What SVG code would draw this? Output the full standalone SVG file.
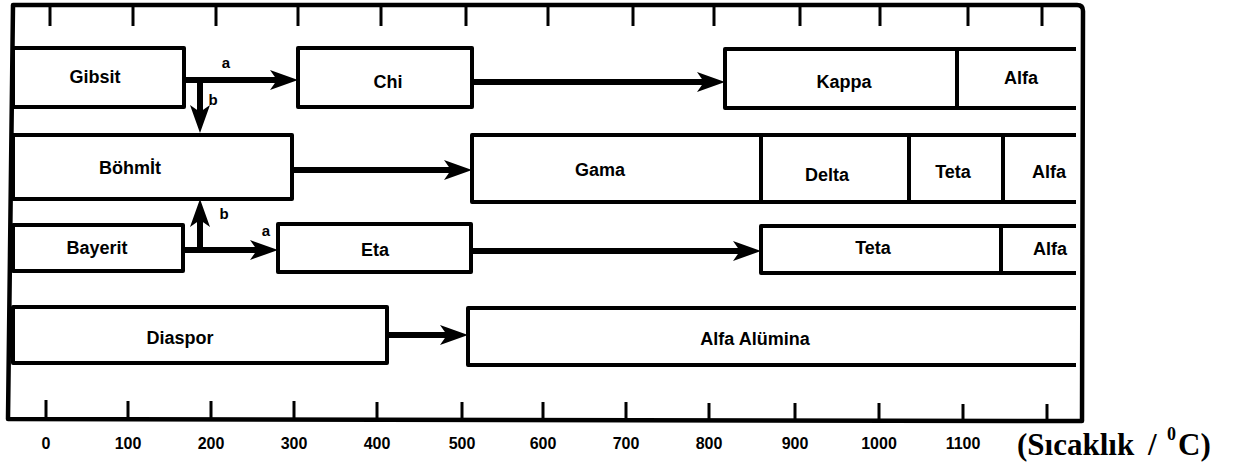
<svg xmlns="http://www.w3.org/2000/svg" width="1234" height="465" viewBox="0 0 1234 465">
  <style>
    .frame { fill: none; stroke: #000; stroke-width: 4.5; stroke-linejoin: round; }
    .tick { stroke: #000; stroke-width: 3; }
    .box { fill: #fff; stroke: #000; stroke-width: 4; stroke-linejoin: round; }
    .open { fill: none; stroke: #000; stroke-width: 4; stroke-linejoin: round; }
    .div { stroke: #000; stroke-width: 4; }
    .shaft { stroke: #000; stroke-width: 6; fill: none; marker-end: url(#head); }
    .lbl { font-family: "Liberation Sans", Arial, sans-serif; font-weight: bold; font-size: 18px; text-anchor: middle; fill: #000; }
    .ab { font-family: "Liberation Sans", Arial, sans-serif; font-weight: bold; font-size: 15px; text-anchor: middle; fill: #000; }
    .num { font-family: "Liberation Sans", Arial, sans-serif; font-weight: bold; font-size: 16px; text-anchor: middle; fill: #000; }
    .unit { font-family: "Liberation Serif", "Times New Roman", serif; font-weight: bold; fill: #000; }
  </style>
  <defs>
    <marker id="head" viewBox="0 -10 28 20" refX="7" refY="0" markerWidth="28" markerHeight="20" markerUnits="userSpaceOnUse" orient="auto">
      <path d="M0,-10 L28,0 L0,10 L7,0 Z" fill="#000"/>
    </marker>
  </defs>
  <rect width="1234" height="465" fill="#fff"/>

  <!-- outer frame with temperature axis -->
  <g id="axis">
    <path class="frame" d="M8,419 L13,5 L1077,5 Q1083,5 1083,11 L1082,421 Z"/>
    <g class="tick">
      <line x1="50" y1="5" x2="50" y2="26"/>
      <line x1="133" y1="5" x2="133" y2="26"/>
      <line x1="216" y1="5" x2="216" y2="26"/>
      <line x1="298" y1="5" x2="298" y2="26"/>
      <line x1="381" y1="5" x2="381" y2="26"/>
      <line x1="466" y1="5" x2="466" y2="26"/>
      <line x1="548" y1="5" x2="548" y2="26"/>
      <line x1="633" y1="5" x2="633" y2="26"/>
      <line x1="714" y1="5" x2="714" y2="26"/>
      <line x1="800" y1="5" x2="800" y2="26"/>
      <line x1="880" y1="5" x2="880" y2="26"/>
      <line x1="968" y1="5" x2="968" y2="26"/>
      <line x1="1042" y1="5" x2="1042" y2="26"/>

      <line x1="46" y1="400" x2="46" y2="419"/>
      <line x1="128" y1="401" x2="128" y2="419"/>
      <line x1="211" y1="401" x2="211" y2="419"/>
      <line x1="294" y1="401" x2="294" y2="420"/>
      <line x1="377" y1="402" x2="377" y2="420"/>
      <line x1="462" y1="402" x2="462" y2="420"/>
      <line x1="543" y1="402" x2="543" y2="420"/>
      <line x1="626" y1="402" x2="626" y2="420"/>
      <line x1="709" y1="403" x2="709" y2="421"/>
      <line x1="795" y1="403" x2="795" y2="421"/>
      <line x1="879" y1="403" x2="879" y2="421"/>
      <line x1="963" y1="404" x2="963" y2="421"/>
      <line x1="1047" y1="404" x2="1047" y2="421"/>
    </g>
    <g class="num">
      <text x="46" y="449">0</text>
      <text x="128" y="449">100</text>
      <text x="211" y="449">200</text>
      <text x="294" y="449">300</text>
      <text x="377" y="449">400</text>
      <text x="462" y="449">500</text>
      <text x="543" y="449">600</text>
      <text x="626" y="449">700</text>
      <text x="709" y="449">800</text>
      <text x="795" y="449">900</text>
      <text x="879" y="449">1000</text>
      <text x="963" y="449">1100</text>
    </g>
    <text class="unit" font-size="31" x="1017" y="455">(Sıcaklık</text>
    <text class="unit" font-size="31" x="1148" y="455">/</text>
    <text class="unit" font-size="18" x="1167" y="440">0</text>
    <text class="unit" font-size="31" x="1178" y="455">C)</text>
  </g>

  <!-- row 1 -->
  <g id="gibsit">
    <rect class="box" x="13" y="48" width="171" height="59"/>
    <text class="lbl" x="95" y="83">Gibsit</text>
  </g>
  <g id="chi">
    <rect class="box" x="298" y="48" width="174" height="59"/>
    <text class="lbl" x="388" y="88">Chi</text>
  </g>
  <g id="kappa-alfa">
    <path class="open" d="M1076,49 H725 V108 H1076"/>
    <line class="div" x1="957" y1="49" x2="957" y2="108"/>
    <text class="lbl" x="844" y="88">Kappa</text>
    <text class="lbl" x="1021" y="84">Alfa</text>
  </g>

  <!-- row 2 -->
  <g id="bohmit">
    <rect class="box" x="13" y="135" width="279" height="64"/>
    <text class="lbl" x="130" y="174">Böhmİt</text>
  </g>
  <g id="gama-delta-teta-alfa">
    <path class="open" d="M1076,135 H472 V202 H1076"/>
    <line class="div" x1="761" y1="135" x2="761" y2="202"/>
    <line class="div" x1="909" y1="135" x2="909" y2="202"/>
    <line class="div" x1="1003" y1="135" x2="1003" y2="202"/>
    <text class="lbl" x="600" y="176">Gama</text>
    <text class="lbl" x="827" y="181">Delta</text>
    <text class="lbl" x="953" y="178">Teta</text>
    <text class="lbl" x="1049" y="178">Alfa</text>
  </g>

  <!-- row 3 -->
  <g id="bayerit">
    <rect class="box" x="13" y="225" width="170" height="46"/>
    <text class="lbl" x="97" y="254">Bayerit</text>
  </g>
  <g id="eta">
    <rect class="box" x="278" y="224" width="193" height="48"/>
    <text class="lbl" x="375" y="256">Eta</text>
  </g>
  <g id="teta-alfa">
    <path class="open" d="M1076,226 H761 V273 H1076"/>
    <line class="div" x1="1001" y1="226" x2="1001" y2="273"/>
    <text class="lbl" x="873" y="254">Teta</text>
    <text class="lbl" x="1050" y="255">Alfa</text>
  </g>

  <!-- row 4 -->
  <g id="diaspor">
    <rect class="box" x="13" y="307" width="374" height="56"/>
    <text class="lbl" x="180" y="344">Diaspor</text>
  </g>
  <g id="alfa-alumina">
    <path class="open" d="M1076,308 H468 V365 H1076"/>
    <text class="lbl" x="755" y="345">Alfa Alümina</text>
  </g>

  <!-- transformation paths -->
  <g id="connectors">
    <line class="shaft" x1="184" y1="80" x2="277" y2="80"/>
    <line class="shaft" x1="200" y1="80" x2="200" y2="112"/>
    <line class="shaft" x1="472" y1="82" x2="704" y2="82"/>
    <line class="shaft" x1="292" y1="170" x2="451" y2="170"/>
    <line class="shaft" x1="183" y1="250" x2="257" y2="250"/>
    <line class="shaft" x1="200" y1="250" x2="200" y2="220"/>
    <line class="shaft" x1="471" y1="251" x2="740" y2="251"/>
    <line class="shaft" x1="387" y1="335" x2="447" y2="335"/>
    <text class="ab" x="226" y="68">a</text>
    <text class="ab" x="213" y="105">b</text>
    <text class="ab" x="224" y="219">b</text>
    <text class="ab" x="266" y="236">a</text>
  </g>
</svg>
